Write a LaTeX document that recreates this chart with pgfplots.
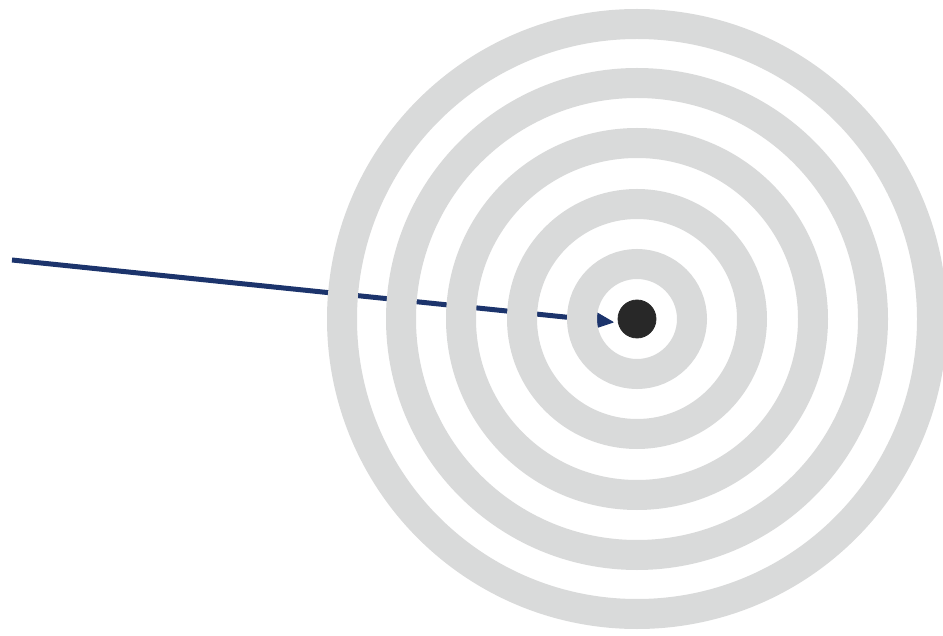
\documentclass[border=0pt]{standalone}
\usepackage{pgfplots}
\pgfplotsset{compat=1.18}
\definecolor{ringgray}{RGB}{217,218,218}
\definecolor{dotblack}{RGB}{40,40,40}
\definecolor{arrownavy}{RGB}{28,52,108}
\begin{document}
\begin{tikzpicture}
% 1 px of the reference = 0.5pt
\begin{axis}[name=ax,
    scale only axis, width=471.5pt, height=318pt,
    xmin=0, xmax=943, ymin=0, ymax=636, y dir=reverse,
    hide axis, clip=false]
% rings: radius (px) -> mark size (pt)
\addplot[only marks, mark=o, mark size=147.5pt, mark options={draw=ringgray, line width=15pt}] coordinates {(637,319)};
\addplot[only marks, mark=o, mark size=118pt, mark options={draw=ringgray, line width=15pt}] coordinates {(637,319)};
\addplot[only marks, mark=o, mark size=88pt, mark options={draw=ringgray, line width=15pt}] coordinates {(637,319)};
\addplot[only marks, mark=o, mark size=57.5pt, mark options={draw=ringgray, line width=15pt}] coordinates {(637,319)};
\addplot[only marks, mark=o, mark size=27.5pt, mark options={draw=ringgray, line width=15pt}] coordinates {(637,319)};
% bull's eye
\addplot[only marks, mark=*, mark size=9.5pt, mark options={draw=dotblack, fill=dotblack}] coordinates {(637,319)};
% arrow shaft
\addplot[draw=arrownavy, line width=2.5pt, mark=none] coordinates {(12,260) (590,319.6)};
% arrow head
\addplot[draw=arrownavy, fill=arrownavy, line width=0.5pt, line join=round, mark=none] coordinates {(613,322.2) (584.9,331.6) (587.3,307.2)} -- cycle;
\end{axis}
\pgfresetboundingbox
\path (ax.south west) rectangle (ax.north east);
\end{tikzpicture}
\end{document}
